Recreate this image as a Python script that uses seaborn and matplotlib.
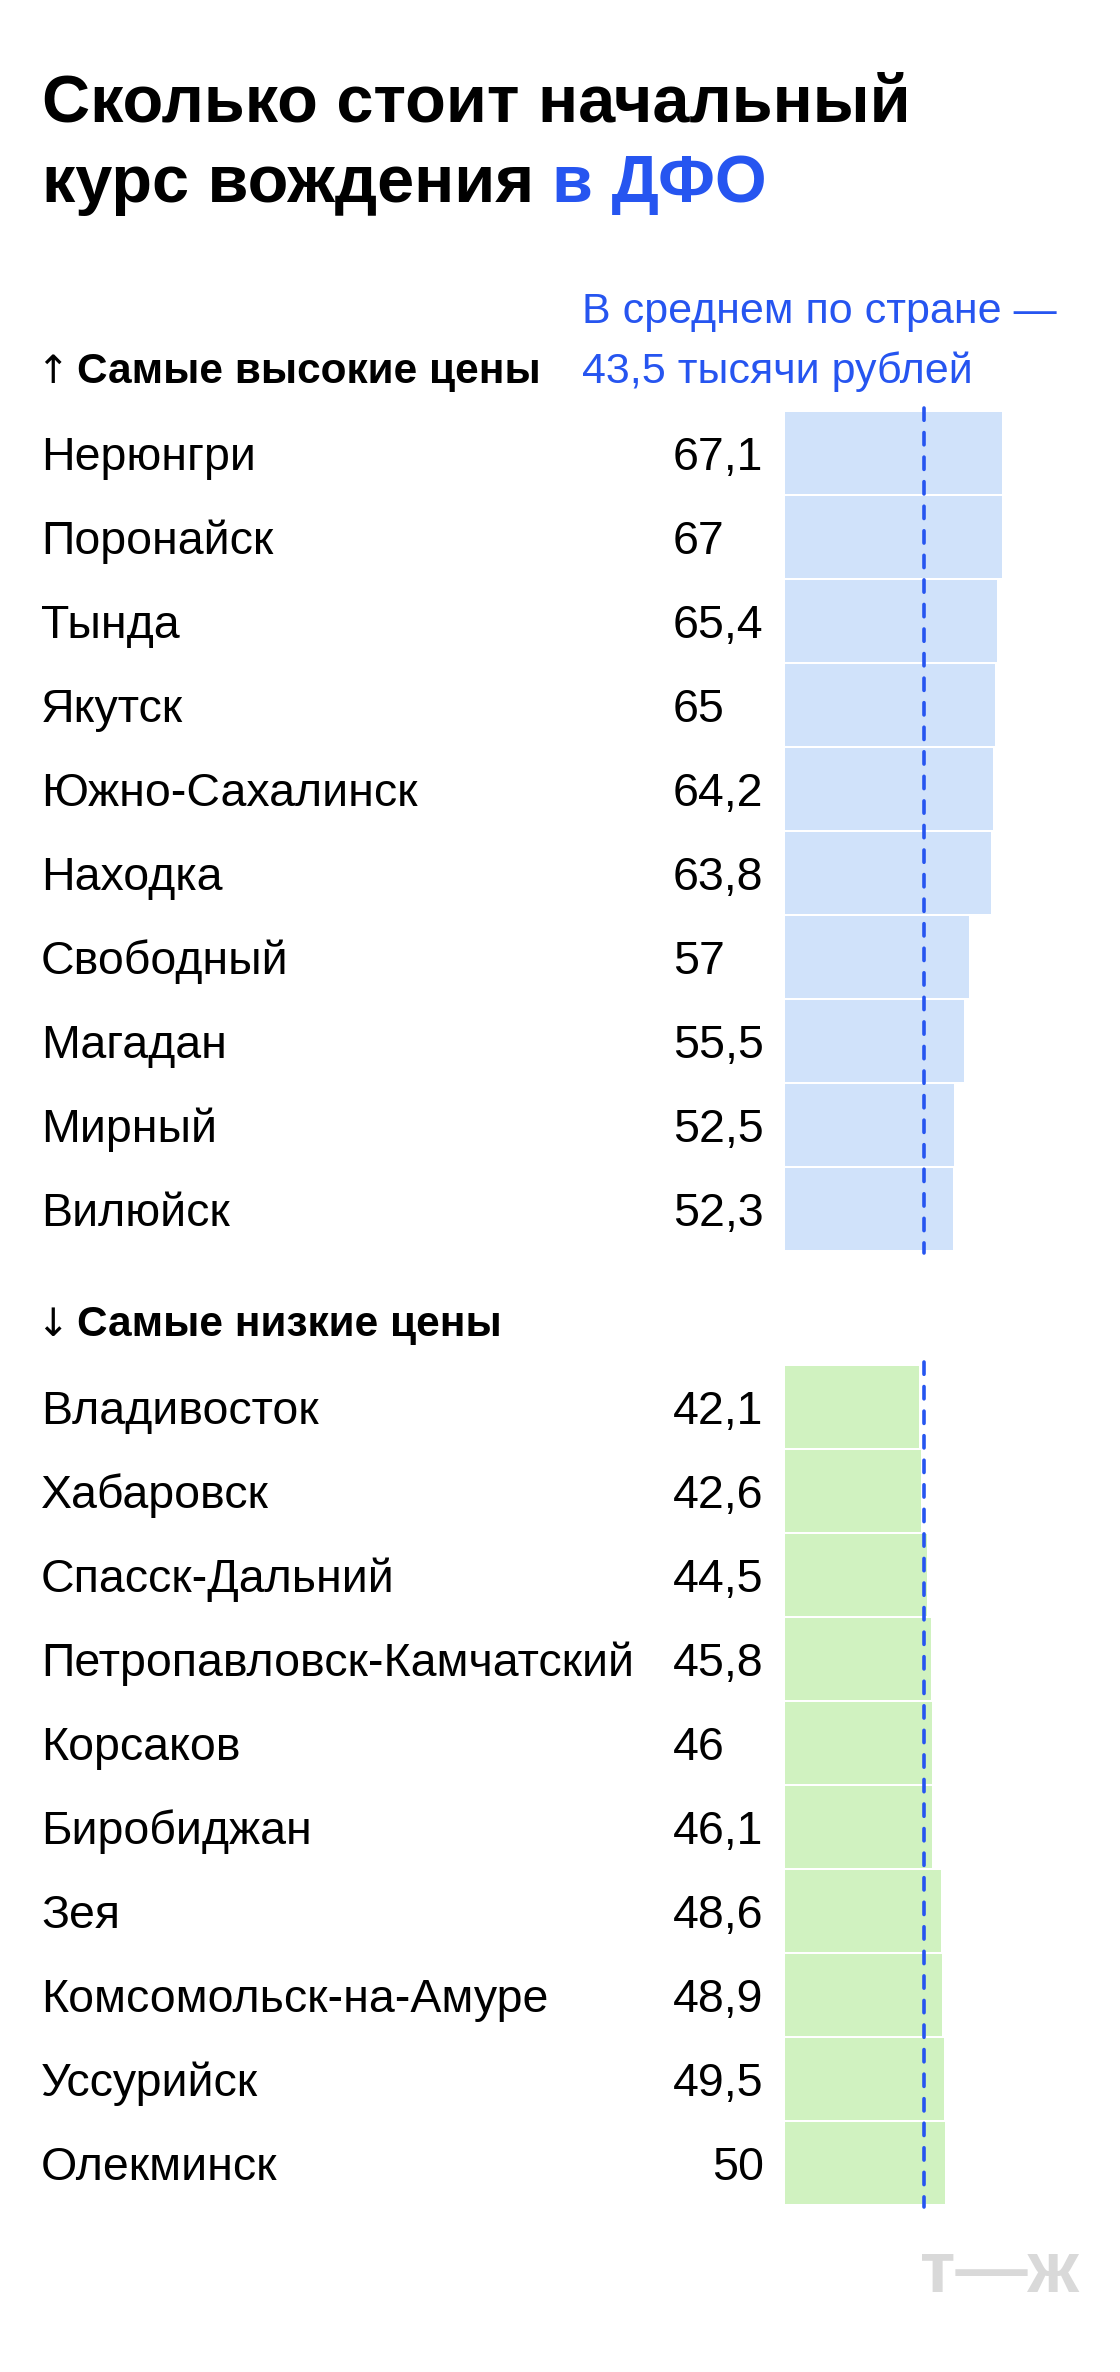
import matplotlib
matplotlib.use('Agg')
import matplotlib.pyplot as plt
import matplotlib.transforms as mtransforms
import seaborn as sns
import pandas as pd

# ---------------- data ----------------
high_cities = ["Нерюнгри", "Поронайск", "Тында", "Якутск", "Южно-Сахалинск",
               "Находка", "Свободный", "Магадан", "Мирный", "Вилюйск"]
high_values = [67.1, 67, 65.4, 65, 64.2, 63.8, 57, 55.5, 52.5, 52.3]

low_cities = ["Владивосток", "Хабаровск", "Спасск-Дальний", "Петропавловск-Камчатский",
              "Корсаков", "Биробиджан", "Зея", "Комсомольск-на-Амуре", "Уссурийск", "Олекминск"]
low_values = [42.1, 42.6, 44.5, 45.8, 46, 46.1, 48.6, 48.9, 49.5, 50]

national_avg = 43.5

title_line1 = "Сколько стоит начальный"
title_line2 = "курс вождения"
title_accent = "в ДФО"
high_header = "Самые высокие цены"
low_header = "Самые низкие цены"
avg_note = ["В среднем по стране —", "43,5 тысячи рублей"]
logo_text = "т—ж"
right_aligned_labels = {"Олекминск"}

# ---------------- style ----------------
W, H = 1120, 2372
DPI = 100
BLUE = "#2655F0"
BAR_BLUE = "#D0E2FA"
BAR_GREEN = "#D0F2C0"

sns.set_theme(style="white")
plt.rcParams['font.family'] = ['Liberation Sans', 'DejaVu Sans']

fig = plt.figure(figsize=(W / DPI, H / DPI), dpi=DPI)
fig.patch.set_facecolor('white')


def fx(x):
    return x / W


def fy(y):
    return 1 - y / H


AX_LEFT = 785
ZERO_PX = 778.7       # where value 0 would sit
UNIT = 3.333          # px per thousand roubles
ROW = 84              # px per row
ax_w = W - AX_LEFT
xmin = (AX_LEFT - ZERO_PX) / UNIT
xmax = xmin + ax_w / UNIT

LABEL_FS = 33.5


def fmt(v):
    return f"{v:g}".replace('.', ',')


groups = [
    (high_cities, high_values, 411, BAR_BLUE, "↑", high_header, 383),
    (low_cities, low_values, 1365, BAR_GREEN, "↓", low_header, 1336),
]

for cities, values, top_px, color, arrow, header, header_base in groups:
    n = len(cities)
    ax = fig.add_axes([fx(AX_LEFT), fy(top_px + n * ROW), ax_w / W, n * ROW / H])
    df = pd.DataFrame({"city": cities, "value": values})
    sns.barplot(data=df, x="value", y="city", orient="h", color=color,
                saturation=1, width=82 / 84, linewidth=0, ax=ax)
    ax.set_xlim(xmin, xmax)
    ax.set_ylim(n - 0.5, -0.5)
    ax.axis('off')

    # national average dashed line
    ax.plot([national_avg, national_avg], [-0.54, n - 0.48], color=BLUE, lw=2.6,
            linestyle=(0, (3.4, 3.4)), dash_capstyle='round', clip_on=False, zorder=5)

    tr = mtransforms.blended_transform_factory(fig.transFigure, ax.transData)
    for i, (c, v) in enumerate(zip(cities, values)):
        ax.text(fx(41), i, c, transform=tr, ha='left', va='center_baseline',
                fontsize=LABEL_FS, color='black')
        if c in right_aligned_labels:
            ax.text(fx(764), i, fmt(v), transform=tr, ha='right', va='center_baseline',
                    fontsize=LABEL_FS, color='black')
        else:
            ax.text(fx(673), i, fmt(v), transform=tr, ha='left', va='center_baseline',
                    fontsize=LABEL_FS, color='black')

    fig.text(fx(36), fy(header_base), arrow, ha='left', va='baseline',
             fontsize=28, color='black', family=['DejaVu Sans'])
    fig.text(fx(77), fy(header_base), header, ha='left', va='baseline',
             fontsize=30.5, fontweight='bold', color='black')

# title
fig.text(fx(42), fy(122), title_line1, ha='left', va='baseline',
         fontsize=48, fontweight='bold', color='black')
t2 = fig.text(fx(42), fy(202), title_line2, ha='left', va='baseline',
              fontsize=48, fontweight='bold', color='black')
fig.canvas.draw()
bb = t2.get_window_extent(renderer=fig.canvas.get_renderer())
fig.text(fx(bb.x1 + 18), fy(202), title_accent, ha='left', va='baseline',
         fontsize=48, fontweight='bold', color=BLUE)

# average note
fig.text(fx(582), fy(323), avg_note[0], ha='left', va='baseline', fontsize=31, color=BLUE)
fig.text(fx(582), fy(383), avg_note[1], ha='left', va='baseline', fontsize=31, color=BLUE)

# logo
fig.text(fx(1079), fy(2292), logo_text, ha='right', va='baseline', fontsize=52,
         fontweight='bold', color='#D9D9D9')

fig.savefig("out.png", dpi=DPI, facecolor='white')
